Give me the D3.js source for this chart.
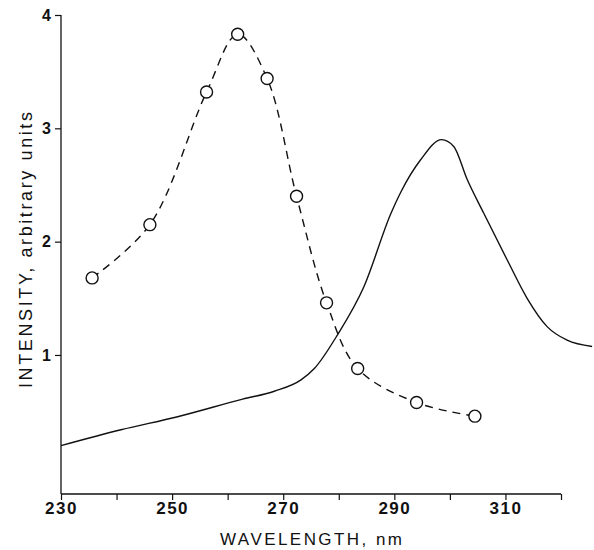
<!DOCTYPE html>
<html>
<head>
<meta charset="utf-8">
<script src="https://cdn.jsdelivr.net/npm/d3@7"></script>
<style>
  body { margin: 0; background: #fff; }
  text { font-family: 'Liberation Sans', Arial, sans-serif; fill: #111; }
</style>
</head>
<body>
<div id="chart"></div>
<script>
// values
const excitationX = [235.6, 246.0, 256.2, 261.8, 267.1, 272.4, 277.8, 283.4, 294.0, 304.5]
const excitationY = [1.68, 2.15, 3.32, 3.83, 3.44, 2.40, 1.46, 0.88, 0.58, 0.46]

const emissionX = [230, 240.8, 251.0, 262.7, 268.4, 273.2, 275.6, 279.8, 284.5, 289.4, 291.2, 294.7, 298.5, 300.7, 303.1, 306.1, 310.3, 313.9, 317.5, 321.1, 325.6]
const emissionY = [0.20, 0.34, 0.455, 0.61, 0.68, 0.78, 0.88, 1.18, 1.60, 2.25, 2.44, 2.72, 2.90, 2.84, 2.55, 2.25, 1.84, 1.50, 1.25, 1.13, 1.075]

const xTicks = [230, 240, 250, 260, 270, 280, 290, 300, 310, 320]
const xTickLabels = [230, 250, 270, 290, 310]
const yTicks = [1, 2, 3, 4]

const width = 594
const height = 550
const marginLeft = 61
const marginTop = 15
const plotRight = 561
const plotBottom = 494

const svg = d3.select('#chart')
  .append('svg')
  .attr('width', width)
  .attr('height', height)

const xScale = d3.scaleLinear().domain([230, 320]).range([marginLeft, plotRight])
const yScale = d3.scaleLinear().domain([-0.227, 4]).range([plotBottom, marginTop])

// x axis with small ticks every 10 nm, labels every 20
const xAxis = svg.append('g')
  .attr('transform', `translate(0,${plotBottom})`)
  .call(d3.axisBottom(xScale)
    .tickValues(xTicks)
    .tickSize(6)
    .tickFormat(d => xTickLabels.includes(d) ? d : ''))
xAxis.select('.domain').attr('d', `M${marginLeft},0H${plotRight}`).attr('stroke', '#111').attr('stroke-width', 1.3)
xAxis.selectAll('.tick line').attr('stroke', '#111').attr('stroke-width', 1.2)
xAxis.selectAll('.tick text')
  .attr('dy', 0)
  .attr('y', 20)
  .style('font-size', '17px')
  .style('font-weight', 'bold')
  .style('letter-spacing', '1.5px')
  .style('font-family', "'Liberation Sans', Arial, sans-serif")
  .attr('fill', '#111')

const yAxis = svg.append('g')
  .attr('transform', `translate(${marginLeft},0)`)
  .call(d3.axisLeft(yScale).tickValues(yTicks).tickSize(6).tickFormat(d3.format('d')))
yAxis.select('.domain').attr('d', `M0,${marginTop}V${plotBottom}`).attr('stroke', '#111').attr('stroke-width', 1.3)
yAxis.selectAll('.tick line').attr('stroke', '#111').attr('stroke-width', 1.2)
yAxis.selectAll('.tick text')
  .attr('x', -10)
  .style('font-size', '16px')
  .style('font-weight', 'bold')
  .style('font-family', "'Liberation Sans', Arial, sans-serif")
  .attr('fill', '#111')

// axis titles
svg.append('text')
  .attr('x', 311)
  .attr('y', 545)
  .attr('text-anchor', 'middle')
  .attr('textLength', 182)
  .attr('lengthAdjust', 'spacing')
  .style('font-size', '17px')
  .text('WAVELENGTH, nm')

svg.append('text')
  .attr('transform', 'translate(32,250) rotate(-90)')
  .attr('text-anchor', 'middle')
  .attr('textLength', 276)
  .attr('lengthAdjust', 'spacing')
  .style('font-size', '18px')
  .text('INTENSITY, arbitrary units')

// solid curve
const emission = emissionX.map((x, i) => ({ x, y: emissionY[i] }))
svg.append('path')
  .datum(emission)
  .attr('fill', 'none')
  .attr('stroke', '#111')
  .attr('stroke-width', 1.4)
  .attr('d', d3.line().x(d => xScale(d.x)).y(d => yScale(d.y)).curve(d3.curveMonotoneX))

// dashed curve with open circles
const excitation = excitationX.map((x, i) => ({ x, y: excitationY[i] }))
svg.append('path')
  .datum(excitation)
  .attr('fill', 'none')
  .attr('stroke', '#111')
  .attr('stroke-width', 1.4)
  .attr('stroke-dasharray', '8,6')
  .attr('d', d3.line().x(d => xScale(d.x)).y(d => yScale(d.y)).curve(d3.curveCatmullRom.alpha(0.5)))

svg.append('g')
  .selectAll('circle')
  .data(excitation)
  .join('circle')
  .attr('cx', d => xScale(d.x))
  .attr('cy', d => yScale(d.y))
  .attr('r', 6)
  .attr('fill', '#fff')
  .attr('stroke', '#111')
  .attr('stroke-width', 1.4)
</script>
</body>
</html>
